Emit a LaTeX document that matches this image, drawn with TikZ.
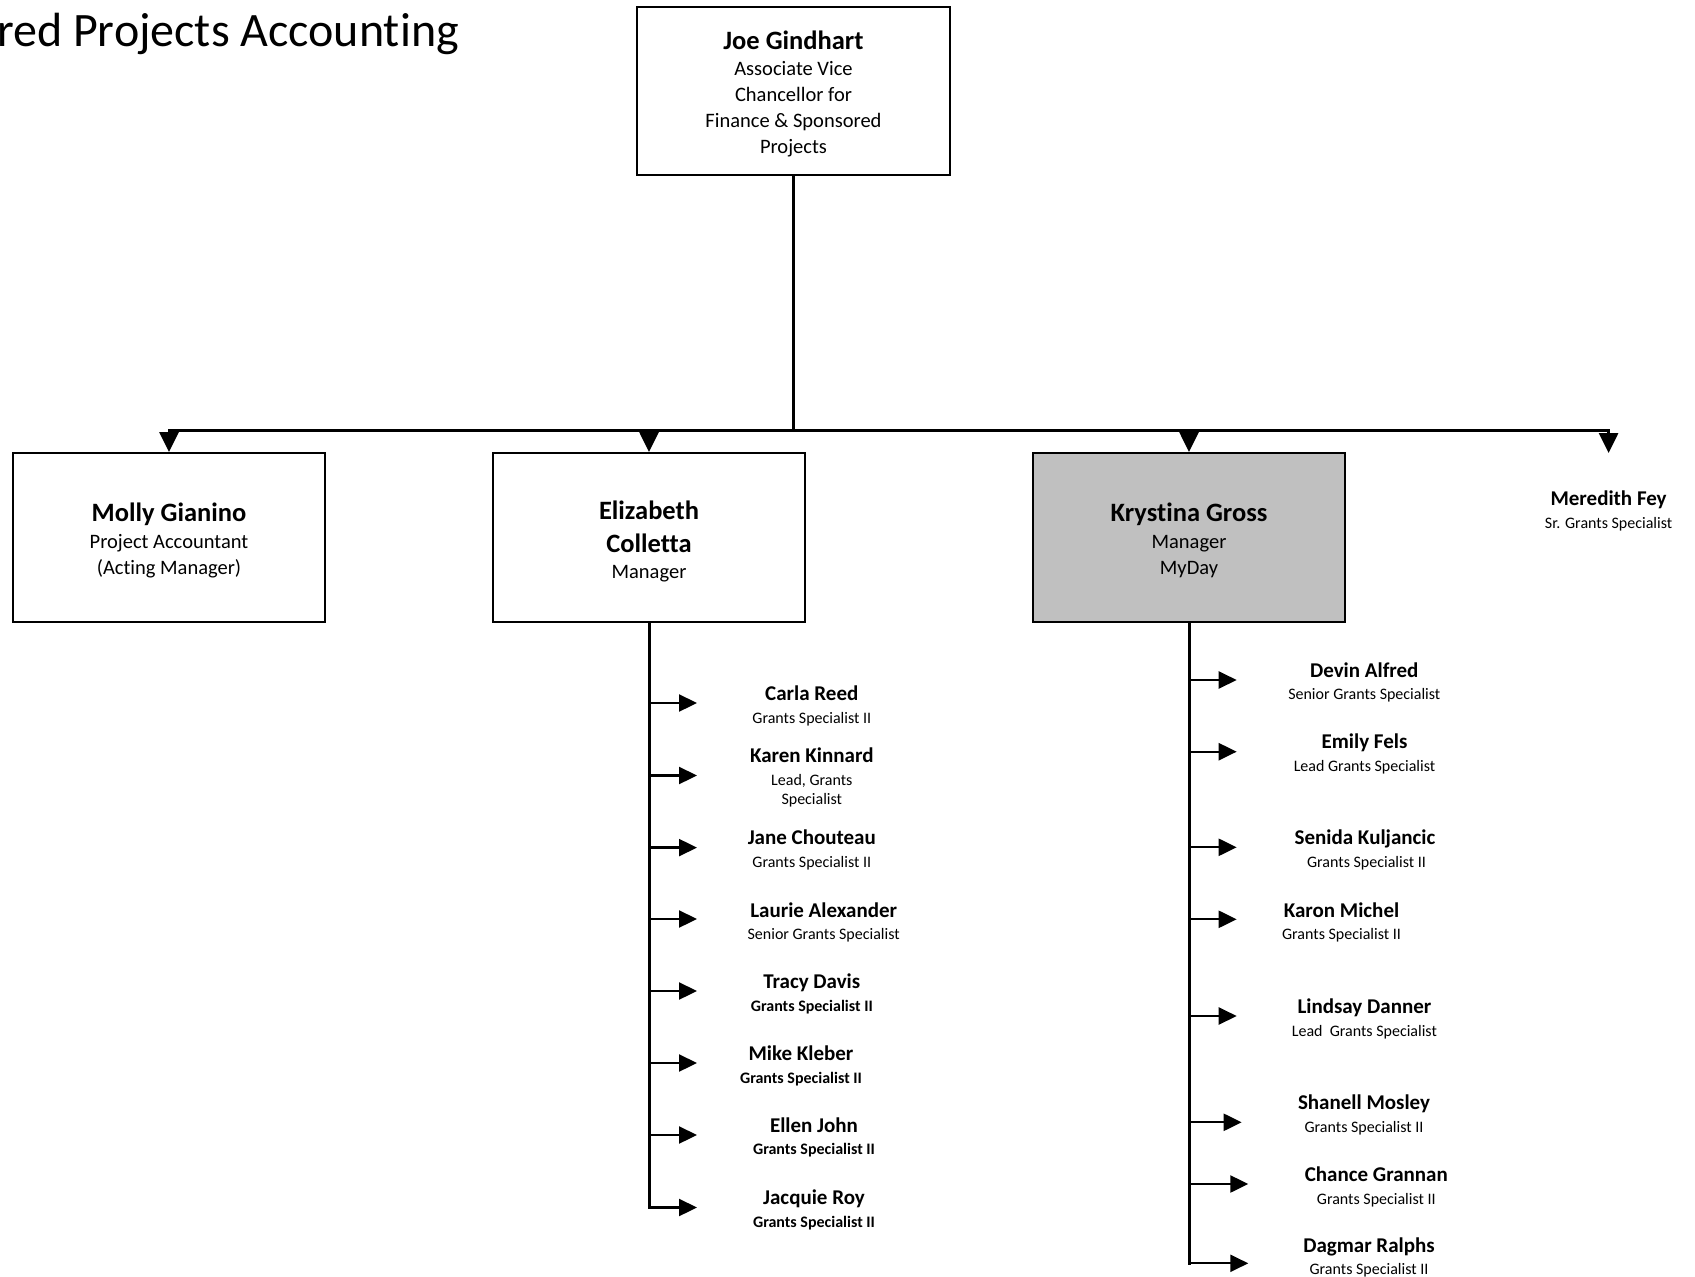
\documentclass[tikz,border=0pt]{standalone}
\usepackage{fontspec}
\setmainfont{Carlito}[Ligatures=NoCommon]
\usetikzlibrary{arrows.meta}
\newcommand\namefnt{\fontsize{26.5}{28}\selectfont\bfseries}
\newcommand\subfnt{\fontsize{20.5}{26}\selectfont}
\newcommand\lnamefnt{\fontsize{21}{22}\selectfont\bfseries}
\newcommand\ltitlefnt{\fontsize{16}{19.5}\selectfont}
\newcommand\topstrut[1]{\rule{0pt}{#1}}
\definecolor{mgrgray}{RGB}{192,192,192}
\begin{document}
\begin{tikzpicture}[x=1pt,y=-1pt,
  box/.style={draw=black, line width=2pt, minimum width=312pt, minimum height=168pt, align=center, inner sep=0pt, font=\subfnt},
  person/.style={align=center, inner sep=0pt, font=\ltitlefnt},
  trunk/.style={line width=3pt, line cap=rect},
  drop/.style={line width=2.7pt, -{Triangle[length=20pt,width=19pt]}},
  branch/.style={line width=2.3pt, -{Triangle[length=18pt,width=17pt]}},
]
\useasboundingbox (0,0) rectangle (1695,1277);
\fill[white] (0,0) rectangle (1695,1277);

% title
\node[anchor=base east, inner sep=0pt, font=\fontsize{48}{50}\selectfont] (title) at (459,46.5) {red Projects Accounting};

% boxes
\node[box, minimum width=313pt] (joe) at (793.5,91) {{\namefnt\topstrut{24pt}Joe Gindhart}\\[0pt] Associate Vice\\ Chancellor for\\ Finance \& Sponsored\\ Projects};
\node[box, minimum height=169pt] (molly) at (169,537.5) {{\namefnt\topstrut{24pt}Molly Gianino}\\[1pt] Project Accountant\\ (Acting Manager)};
\node[box, minimum height=169pt] (eliz) at (649,537.5) {{\namefnt\topstrut{26.5pt}Elizabeth}\\[6.6pt]{\namefnt Colletta}\\[0pt] Manager};
\node[box, minimum height=169pt, fill=mgrgray] (kryst) at (1189,537.5) {{\namefnt\topstrut{24pt}Krystina Gross}\\[1pt] Manager\\ MyDay};
\node[person] (mered) at (1608.6,511) {{\lnamefnt Meredith Fey}\\[3.2pt] Sr. Grants Specialist};

% bus
\coordinate (busL) at (169,430);
\coordinate (busR) at (1608.6,430);
\coordinate (meredA) at (1608.6,453);
\draw[trunk] (joe.south) -- (joe.south |- busL);
\draw[trunk] (busL) -- (busR);
\draw[drop] (busL) -- (molly.north);
\draw[drop] (eliz.north |- busL) -- (eliz.north);
\draw[drop] (kryst.north |- busL) -- (kryst.north);
\draw[drop] (busR) -- (meredA);

% Elizabeth's team
\node[person] (carla) at (811.8,706) {{\lnamefnt Carla Reed}\\[3.2pt] Grants Specialist II};
\node[person] (karen) at (811.8,777.5) {{\lnamefnt Karen Kinnard}\\[3.2pt] Lead, Grants\\ Specialist};
\node[person] (jane) at (811.8,850) {{\lnamefnt Jane Chouteau}\\[3.2pt] Grants Specialist II};
\node[person] (laurie) at (823.7,922.4) {{\lnamefnt Laurie Alexander}\\[3.2pt] Senior Grants Specialist};
\node[person] (tracy) at (811.8,993.7) {{\lnamefnt Tracy Davis}\\[3.2pt] {\bfseries Grants Specialist II}};
\node[person] (mike) at (801,1066.2) {{\lnamefnt Mike Kleber}\\[3.2pt] {\bfseries Grants Specialist II}};
\node[person] (ellen) at (814,1137.5) {{\lnamefnt Ellen John}\\[3.2pt] {\bfseries Grants Specialist II}};
\node[person] (jacq) at (814,1209.8) {{\lnamefnt Jacquie Roy}\\[3.2pt] {\bfseries Grants Specialist II}};

\coordinate (carlaA) at (697,703);
\coordinate (karenA) at (697,775.5);
\coordinate (janeA) at (697,847.6);
\coordinate (laurieA) at (697,919);
\coordinate (tracyA) at (697,991);
\coordinate (mikeA) at (697,1063);
\coordinate (ellenA) at (697,1135);
\coordinate (jacqA) at (697,1207.5);
\draw[trunk] (eliz.south) -- (eliz.south |- jacqA);
\foreach \p in {carlaA,karenA,janeA,laurieA,tracyA,mikeA,ellenA,jacqA}
  \draw[branch] (eliz.south |- \p) -- (\p);

% Krystina's team
\node[person] (devin) at (1364.3,682.4) {{\lnamefnt Devin Alfred}\\[3.2pt] Senior Grants Specialist};
\node[person] (emily) at (1364.5,754.2) {{\lnamefnt Emily Fels}\\[3.2pt] Lead Grants Specialist};
\node[person] (senida) at (1365,850) {{\lnamefnt Senida Kuljancic}\\[3.2pt] \hspace*{3pt}Grants Specialist II};
\node[person] (karon) at (1341.5,922.4) {{\lnamefnt Karon Michel}\\[3.2pt] Grants Specialist II};
\node[person] (lindsay) at (1364.4,1018.6) {{\lnamefnt Lindsay Danner}\\[3.2pt] Lead\ \ Grants Specialist};
\node[person] (shanell) at (1364,1115) {{\lnamefnt Shanell Mosley}\\[3.2pt] Grants Specialist II};
\node[person] (chance) at (1376.3,1186.8) {{\lnamefnt Chance Grannan}\\[3.2pt] Grants Specialist II};
\node[person] (dagmar) at (1369,1257.5) {{\lnamefnt Dagmar Ralphs}\\[3.2pt] Grants Specialist II};

\coordinate (devinA) at (1236.7,680);
\coordinate (emilyA) at (1236.7,751.7);
\coordinate (senidaA) at (1236.7,847.3);
\coordinate (karonA) at (1236.7,919.3);
\coordinate (lindsayA) at (1236.7,1016);
\coordinate (shanellA) at (1241.7,1122.3);
\coordinate (chanceA) at (1248.3,1184);
\coordinate (dagmarA) at (1248.3,1263.3);
\draw[trunk] (kryst.south) -- (kryst.south |- dagmarA);
\foreach \p in {devinA,emilyA,senidaA,karonA,lindsayA,shanellA,chanceA,dagmarA}
  \draw[branch] (kryst.south |- \p) -- (\p);
\end{tikzpicture}
\end{document}
